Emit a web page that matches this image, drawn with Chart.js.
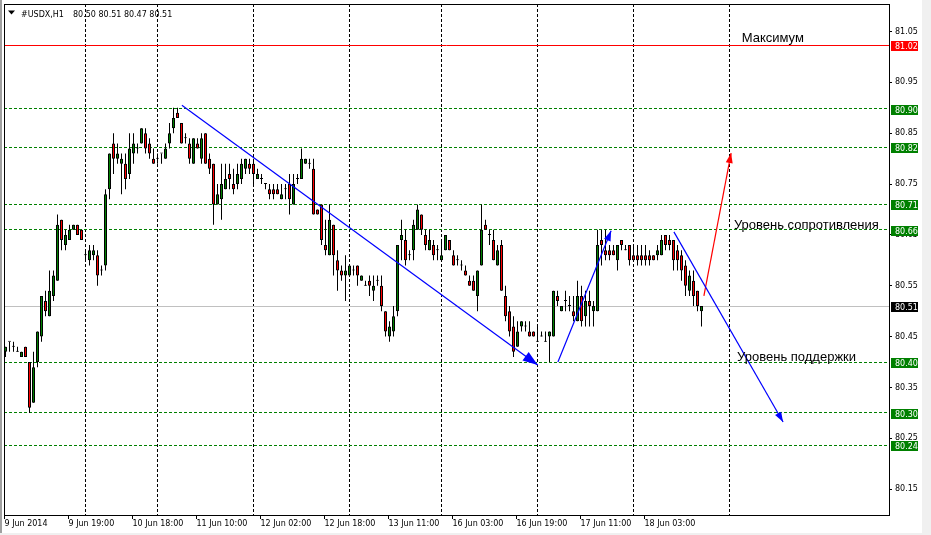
<!DOCTYPE html>
<html>
<head>
<meta charset="utf-8">
<script src="https://cdn.jsdelivr.net/npm/chart.js@4.4.1/dist/chart.umd.min.js"></script>
<style>
  html, body { margin: 0; padding: 0; background: #fff; }
  canvas { display: block; }
</style>
</head>
<body>
<canvas id="chart" width="931" height="535"></canvas>
<script>
// #USDX H1, one entry per bar (bar index = position in the arrays)
const SYMBOL = "#USDX,H1";
const OPEN = [
  80.42, 80.44, 80.43, 80.42, 80.41, 80.43, 80.40, 80.32, 80.40, 80.45,
  80.52, 80.49, 80.53, 80.56, 80.68, 80.63, 80.64, 80.66, 80.67, 80.66,
  80.61, 80.60, 80.61, 80.61, 80.58, 80.59, 80.74, 80.83, 80.80, 80.79,
  80.79, 80.77, 80.81, 80.82, 80.83, 80.85, 80.83, 80.80, 80.80, 80.81,
  80.80, 80.83, 80.86, 80.89, 80.87, 80.84, 80.83, 80.79, 80.83, 80.80,
  80.85, 80.80, 80.79, 80.71, 80.72, 80.74, 80.77, 80.75, 80.75, 80.76,
  80.78, 80.79, 80.79, 80.76, 80.76, 80.75, 80.74, 80.74, 80.74, 80.72,
  80.74, 80.75, 80.71, 80.76, 80.76, 80.79, 80.79, 80.78, 80.70, 80.71,
  80.63, 80.61, 80.67, 80.60, 80.58, 80.57, 80.57, 80.58, 80.59, 80.56,
  80.55, 80.56, 80.54, 80.56, 80.55, 80.50, 80.45, 80.46, 80.50, 80.64,
  80.64, 80.61, 80.62, 80.66, 80.69, 80.65, 80.62, 80.63, 80.62, 80.60,
  80.62, 80.64, 80.61, 80.60, 80.59, 80.58, 80.56, 80.56, 80.53, 80.59,
  80.67, 80.65, 80.64, 80.59, 80.63, 80.53, 80.50, 80.47, 80.43, 80.47,
  80.47, 80.46, 80.46, 80.44, 80.45, 80.44, 80.45, 80.45, 80.53, 80.50,
  80.52, 80.51, 80.50, 80.48, 80.53, 80.49, 80.52, 80.50, 80.50, 80.64,
  80.62, 80.62, 80.62, 80.60, 80.64, 80.62, 80.63, 80.61, 80.61, 80.61,
  80.61, 80.61, 80.61, 80.61, 80.61, 80.65, 80.64, 80.64, 80.62, 80.61,
  80.59, 80.54, 80.56, 80.54, 80.50
];
const HIGH = [
  80.43, 80.44, 80.44, 80.43, 80.42, 80.43, 80.40, 80.42, 80.46, 80.53,
  80.54, 80.58, 80.58, 80.69, 80.68, 80.66, 80.67, 80.67, 80.67, 80.66,
  80.62, 80.63, 80.63, 80.62, 80.59, 80.74, 80.81, 80.85, 80.83, 80.81,
  80.81, 80.85, 80.85, 80.83, 80.86, 80.86, 80.84, 80.82, 80.81, 80.81,
  80.83, 80.87, 80.90, 80.90, 80.87, 80.85, 80.84, 80.84, 80.84, 80.85,
  80.85, 80.81, 80.79, 80.75, 80.79, 80.79, 80.79, 80.78, 80.79, 80.80,
  80.80, 80.80, 80.80, 80.78, 80.77, 80.75, 80.75, 80.75, 80.75, 80.75,
  80.75, 80.77, 80.77, 80.77, 80.82, 80.80, 80.80, 80.80, 80.70, 80.71,
  80.68, 80.71, 80.67, 80.62, 80.59, 80.61, 80.59, 80.59, 80.59, 80.57,
  80.56, 80.57, 80.57, 80.57, 80.57, 80.50, 80.48, 80.51, 80.63, 80.68,
  80.66, 80.62, 80.68, 80.71, 80.69, 80.66, 80.66, 80.64, 80.63, 80.64,
  80.65, 80.64, 80.62, 80.61, 80.60, 80.59, 80.57, 80.57, 80.58, 80.71,
  80.68, 80.66, 80.66, 80.63, 80.64, 80.55, 80.51, 80.49, 80.48, 80.48,
  80.48, 80.48, 80.46, 80.47, 80.46, 80.46, 80.46, 80.54, 80.54, 80.51,
  80.54, 80.53, 80.53, 80.56, 80.55, 80.54, 80.54, 80.52, 80.66, 80.66,
  80.66, 80.63, 80.63, 80.63, 80.64, 80.63, 80.63, 80.63, 80.63, 80.63,
  80.63, 80.62, 80.61, 80.63, 80.65, 80.65, 80.65, 80.64, 80.63, 80.62,
  80.60, 80.58, 80.58, 80.54, 80.51
];
const LOW = [
  80.41, 80.42, 80.42, 80.42, 80.41, 80.41, 80.30, 80.32, 80.39, 80.44,
  80.49, 80.49, 80.52, 80.56, 80.62, 80.62, 80.64, 80.66, 80.65, 80.64,
  80.60, 80.59, 80.60, 80.55, 80.57, 80.58, 80.72, 80.77, 80.79, 80.73,
  80.74, 80.76, 80.79, 80.81, 80.83, 80.81, 80.80, 80.79, 80.79, 80.79,
  80.80, 80.82, 80.85, 80.88, 80.83, 80.83, 80.79, 80.79, 80.82, 80.79,
  80.79, 80.77, 80.67, 80.71, 80.68, 80.74, 80.74, 80.73, 80.74, 80.75,
  80.77, 80.77, 80.75, 80.76, 80.75, 80.74, 80.72, 80.72, 80.73, 80.72,
  80.72, 80.69, 80.71, 80.75, 80.76, 80.79, 80.78, 80.69, 80.69, 80.63,
  80.61, 80.61, 80.57, 80.54, 80.56, 80.52, 80.57, 80.57, 80.55, 80.56,
  80.55, 80.53, 80.52, 80.55, 80.50, 80.45, 80.44, 80.45, 80.49, 80.60,
  80.59, 80.60, 80.60, 80.66, 80.65, 80.62, 80.62, 80.60, 80.60, 80.60,
  80.62, 80.62, 80.59, 80.59, 80.58, 80.57, 80.55, 80.54, 80.50, 80.59,
  80.66, 80.63, 80.60, 80.59, 80.54, 80.48, 80.45, 80.41, 80.43, 80.46,
  80.46, 80.45, 80.45, 80.44, 80.45, 80.44, 80.40, 80.45, 80.51, 80.50,
  80.50, 80.50, 80.48, 80.48, 80.47, 80.47, 80.47, 80.47, 80.50, 80.59,
  80.60, 80.60, 80.61, 80.58, 80.62, 80.62, 80.59, 80.60, 80.59, 80.59,
  80.59, 80.59, 80.60, 80.60, 80.61, 80.62, 80.62, 80.58, 80.58, 80.56,
  80.53, 80.53, 80.51, 80.50, 80.47
];
const CLOSE = [
  80.43, 80.44, 80.43, 80.42, 80.42, 80.41, 80.31, 80.39, 80.46, 80.53,
  80.50, 80.54, 80.57, 80.67, 80.64, 80.65, 80.66, 80.67, 80.65, 80.64,
  80.61, 80.62, 80.62, 80.57, 80.58, 80.73, 80.81, 80.80, 80.81, 80.80,
  80.76, 80.82, 80.83, 80.82, 80.86, 80.82, 80.81, 80.79, 80.80, 80.81,
  80.82, 80.85, 80.88, 80.88, 80.83, 80.84, 80.80, 80.84, 80.82, 80.84,
  80.79, 80.78, 80.71, 80.73, 80.75, 80.76, 80.76, 80.74, 80.77, 80.79,
  80.80, 80.78, 80.77, 80.77, 80.76, 80.75, 80.73, 80.73, 80.73, 80.73,
  80.74, 80.72, 80.75, 80.76, 80.80, 80.80, 80.79, 80.69, 80.69, 80.64,
  80.62, 80.68, 80.61, 80.58, 80.57, 80.58, 80.59, 80.58, 80.57, 80.57,
  80.55, 80.55, 80.55, 80.56, 80.51, 80.46, 80.47, 80.49, 80.63, 80.65,
  80.60, 80.61, 80.67, 80.70, 80.66, 80.63, 80.64, 80.61, 80.62, 80.61,
  80.65, 80.62, 80.59, 80.60, 80.59, 80.57, 80.55, 80.54, 80.58, 80.66,
  80.66, 80.65, 80.60, 80.62, 80.54, 80.49, 80.46, 80.42, 80.46, 80.48,
  80.47, 80.45, 80.45, 80.44, 80.45, 80.44, 80.46, 80.54, 80.52, 80.51,
  80.52, 80.51, 80.49, 80.53, 80.48, 80.52, 80.51, 80.51, 80.63, 80.63,
  80.61, 80.61, 80.61, 80.63, 80.63, 80.62, 80.60, 80.60, 80.60, 80.60,
  80.60, 80.60, 80.60, 80.62, 80.64, 80.63, 80.63, 80.60, 80.60, 80.58,
  80.55, 80.57, 80.53, 80.51, 80.51
];

// time axis (values are bar indexes)
const TIME_LABELS = ["9 Jun 2014", "9 Jun 19:00", "10 Jun 18:00", "11 Jun 10:00", "12 Jun 02:00",
  "12 Jun 18:00", "13 Jun 11:00", "16 Jun 03:00", "16 Jun 19:00", "17 Jun 11:00", "18 Jun 03:00"];
const TIME_LABEL_BARS = [-0.25, 15.75, 31.75, 47.75, 63.75, 79.75, 95.75, 111.75, 127.75, 143.75, 159.75];
const DAY_LINE_BARS = [20, 38, 62, 86, 109, 133, 157, 181];
const BAR_MIN = -0.375, BAR_MAX = 220.875;

// price axis
const PRICE_TICKS = [80.15, 80.25, 80.35, 80.45, 80.55, 80.65, 80.75, 80.85, 80.95, 81.05];
const PRICE_MIN = 80.0992, PRICE_MAX = 81.1041;

// objects drawn on the chart: [bar, price]
const LEVELS = [80.898, 80.822, 80.71, 80.66, 80.40, 80.30, 80.236];
const MAX_LEVEL = 81.023;
const TREND_DOWN = [[44.1, 80.905], [133.05, 80.394]];
const TREND_UP = [[138.1, 80.400], [151.4, 80.658]];
const TREND_NEXT = [[167.1, 80.656], [194.4, 80.282]];
const TREND_ALT = [[174.6, 80.530], [181.4, 80.811]];
const NOTES = [["Максимум", 184.05, 81.029], ["Уровень сопротивления", 182.1, 80.661], ["Уровень поддержки", 182.9, 80.402]];

const BID = CLOSE[CLOSE.length - 1];
// tiny lineHeight keeps the axis labels from pushing the plot area down
const SMALL_FONT = { family: "DejaVu Sans", size: 8, lineHeight: 0.25 };

function trend(points, color, head) {
  return {
    type: "line",
    data: points.map(function(p) { return { x: p[0], y: p[1] }; }),
    borderColor: color,
    borderWidth: 1.2,
    pointRadius: 0,
    arrow: head,
    order: 0
  };
}

const mt4Plugin = {
  id: "mt4",
  beforeDraw(chart) {
    const ctx = chart.ctx;
    ctx.save();
    ctx.fillStyle = "#fff";
    ctx.fillRect(0, 0, chart.width, chart.height);
    ctx.fillStyle = "#a0a0a0";
    ctx.fillRect(0, 0, 2, chart.height);
    ctx.fillStyle = "#f0f0f0";
    ctx.fillRect(922, 0, 9, chart.height);
    ctx.fillRect(0, 533, chart.width, 2);
    ctx.restore();
  },
  afterDatasetsDraw(chart) {
    // arrow heads at the end of the trend lines
    const ctx = chart.ctx;
    ctx.save();
    chart.data.datasets.forEach(function(ds, i) {
      if (!ds.arrow) return;
      const pts = chart.getDatasetMeta(i).data;
      const a = pts[0], b = pts[pts.length - 1];
      const ang = Math.atan2(b.y - a.y, b.x - a.x);
      const L = ds.arrow, W = ds.arrow * 0.35;
      const bx = b.x - L * Math.cos(ang), by = b.y - L * Math.sin(ang);
      ctx.beginPath();
      ctx.moveTo(b.x, b.y);
      ctx.lineTo(bx + W * Math.sin(ang), by - W * Math.cos(ang));
      ctx.lineTo(bx - W * Math.sin(ang), by + W * Math.cos(ang));
      ctx.closePath();
      ctx.fillStyle = ds.borderColor;
      ctx.fill();
    });
    ctx.restore();
  },
  afterDraw(chart) {
    const ctx = chart.ctx;
    const area = chart.chartArea;
    const xs = chart.scales.x, ys = chart.scales.y;
    ctx.save();
    ctx.strokeStyle = "#000";
    ctx.lineWidth = 1;
    ctx.strokeRect(area.left + 0.5, area.top + 0.5, area.right - area.left, area.bottom - area.top);

    // price boxes on the axis
    ctx.font = "8px 'DejaVu Sans'";
    ctx.textBaseline = "middle";
    ctx.textAlign = "left";
    const boxes = LEVELS.map(function(v) { return [v, "#008000"]; });
    boxes.push([MAX_LEVEL, "#ff0000"]);
    boxes.push([BID, "#000000"]);
    boxes.forEach(function(b) {
      const y = Math.round(ys.getPixelForValue(b[0]));
      ctx.fillStyle = b[1];
      ctx.fillRect(area.right + 2, y - 4, 27, 10);
      ctx.fillStyle = "#fff";
      ctx.fillText(b[0].toFixed(2), area.right + 6, y + 1.5);
    });

    // text objects
    ctx.font = "13px 'Liberation Sans', Arial, sans-serif";
    ctx.textBaseline = "alphabetic";
    ctx.fillStyle = "#000";
    NOTES.forEach(function(n) {
      ctx.fillText(n[0], xs.getPixelForValue(n[1]), ys.getPixelForValue(n[2]));
    });

    // window title
    ctx.beginPath();
    ctx.moveTo(8, 10.5);
    ctx.lineTo(15, 10.5);
    ctx.lineTo(11.5, 14.5);
    ctx.closePath();
    ctx.fill();
    ctx.font = "8px 'DejaVu Sans'";
    const last = CLOSE.length - 1;
    ctx.fillText(SYMBOL, 21, 16.5);
    ctx.fillText([OPEN[last], HIGH[last], LOW[last], CLOSE[last]].map(function(v) { return v.toFixed(2); }).join(" "), 73, 16.5);
    ctx.restore();
  }
};

new Chart(document.getElementById("chart"), {
  type: "bar",
  data: {
    datasets: [
      trend(TREND_DOWN, "#0000ff", 15),
      trend(TREND_UP, "#0000ff", 10),
      trend(TREND_NEXT, "#0000ff", 10),
      trend(TREND_ALT, "#ff0000", 10),
      {
        label: "body",
        data: OPEN.map(function(o, i) { return { x: i, y: [o, CLOSE[i]] }; }),
        backgroundColor: OPEN.map(function(o, i) { return CLOSE[i] > o ? "#008000" : CLOSE[i] < o ? "#ff0000" : "#000"; }),
        borderColor: "#000",
        borderWidth: 1,
        borderSkipped: false,
        barThickness: 3,
        minBarLength: 1,
        inflateAmount: 0,
        grouped: false,
        order: 1
      },
      {
        label: "wick",
        data: LOW.map(function(l, i) { return { x: i, y: [l, HIGH[i]] }; }),
        backgroundColor: "#000",
        borderWidth: 0,
        barThickness: 1,
        inflateAmount: 0,
        grouped: false,
        order: 2
      }
    ]
  },
  options: {
    responsive: false,
    animation: false,
    events: [],
    layout: { padding: { left: 4, top: 4, right: 0, bottom: 0 } },
    plugins: { legend: { display: false }, tooltip: { enabled: false } },
    scales: {
      x: {
        type: "linear",
        position: "bottom",
        min: BAR_MIN,
        max: BAR_MAX,
        offset: false,
        afterBuildTicks: function(s) { s.ticks = TIME_LABEL_BARS.map(function(v) { return { value: v }; }); },
        afterFit: function(s) { s.height = 20; },
        ticks: {
          autoSkip: false,
          maxRotation: 0,
          align: "start",
          padding: 4,
          color: "#000",
          font: SMALL_FONT,
          callback: function(v, i) { return TIME_LABELS[i]; }
        },
        grid: { offset: false, drawOnChartArea: false, drawTicks: true, tickLength: 4, tickColor: "#000" },
        border: { display: false }
      },
      xg: {
        type: "linear",
        position: "top",
        min: BAR_MIN,
        max: BAR_MAX,
        offset: false,
        afterBuildTicks: function(s) { s.ticks = DAY_LINE_BARS.map(function(v) { return { value: v }; }); },
        afterFit: function(s) { s.height = 0; },
        ticks: { display: false },
        grid: { offset: false, color: "#000", lineWidth: 1, drawTicks: false },
        border: { display: false, dash: [3, 2] }
      },
      y: {
        type: "linear",
        position: "right",
        min: PRICE_MIN,
        max: PRICE_MAX,
        afterBuildTicks: function(s) { s.ticks = PRICE_TICKS.map(function(v) { return { value: v }; }); },
        afterFit: function(s) { s.width = 42; },
        ticks: { color: "#000", font: SMALL_FONT, padding: 3, callback: function(v) { return v.toFixed(2); } },
        grid: { drawOnChartArea: false, drawTicks: true, tickLength: 3, tickColor: "#000" },
        border: { display: false }
      },
      yl: {
        type: "linear",
        position: "right",
        min: PRICE_MIN,
        max: PRICE_MAX,
        afterBuildTicks: function(s) { s.ticks = LEVELS.map(function(v) { return { value: v }; }); },
        afterFit: function(s) { s.width = 0; },
        ticks: { display: false },
        grid: { color: "#008000", lineWidth: 1, drawTicks: false },
        border: { display: false, dash: [3, 2] }
      },
      ys: {
        type: "linear",
        position: "right",
        min: PRICE_MIN,
        max: PRICE_MAX,
        afterBuildTicks: function(s) { s.ticks = [MAX_LEVEL, BID].map(function(v) { return { value: v }; }); },
        afterFit: function(s) { s.width = 0; },
        ticks: { display: false },
        grid: {
          lineWidth: 1,
          drawTicks: false,
          color: function(c) { return c.tick && c.tick.value === MAX_LEVEL ? "#ff0000" : "#c0c0c0"; }
        },
        border: { display: false }
      }
    }
  },
  plugins: [mt4Plugin]
});
</script>
</body>
</html>
